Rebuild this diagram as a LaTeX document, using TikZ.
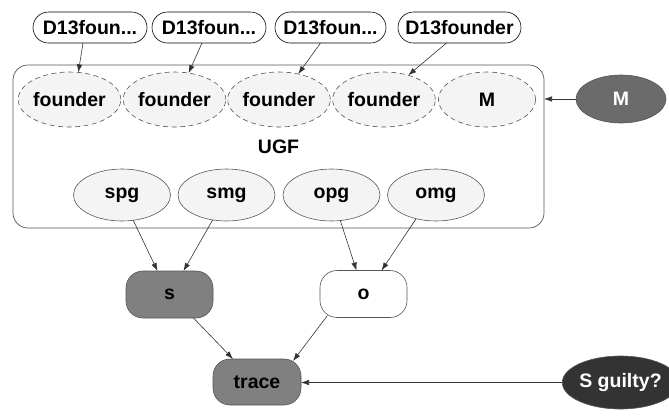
\documentclass[tikz,border=0pt]{standalone}
\usepackage{fontspec}
\setmainfont{Liberation Sans}
\usetikzlibrary{arrows.meta,shapes.geometric,calc}
\definecolor{edgegray}{HTML}{333333}
\definecolor{linegray}{HTML}{555555}
\definecolor{midgray}{HTML}{808080}
\definecolor{darkfill}{HTML}{6B6B6B}
\definecolor{darkerfill}{HTML}{333333}
\definecolor{paleFill}{HTML}{F4F4F4}
\begin{document}
\begin{tikzpicture}[x=1pt,y=-1pt,
  font=\fontsize{19.5}{22}\selectfont\bfseries,
  every node/.style={inner sep=0pt, outer sep=0pt},
  pill/.style={draw=black, line width=0.6pt, rounded corners=15.5pt,
    minimum width=#1, minimum height=31pt, fill=white},
  founderell/.style={ellipse, draw=linegray, line width=0.6pt,
    dash pattern=on 5pt off 3.5pt, fill=paleFill,
    minimum width=97pt, minimum height=55pt},
  geneell/.style={ellipse, draw=linegray, line width=0.6pt, fill=paleFill,
    minimum width=97pt, minimum height=52pt},
  varbox/.style={draw=linegray, line width=0.6pt, rounded corners=17pt,
    minimum height=47pt, minimum width=87pt, fill=#1},
  plate/.style={draw=linegray, line width=0.7pt, rounded corners=15pt,
    minimum width=531pt, minimum height=163pt},
  conn/.style={draw=edgegray, line width=0.6pt,
    -{Latex[length=8pt,width=5.5pt]}}
]
\useasboundingbox (0,0) rectangle (669,416);

% plate holding the founder and gene variables
\node[plate] (ugf) at (278.5,146.5) {UGF};

% per-founder database nodes
\node[pill=114pt] (d1) at (90,27.5) {D13foun...};
\node[pill=114pt] (d2) at (209,27.5) {D13foun...};
\node[pill=111pt] (d3) at (330.5,27.5) {D13foun...};
\node[pill=123pt] (d4) at (459.5,27.5) {D13founder};

% founder row inside the plate
\node[founderell] (f1) at (69.5,99.5) {founder};
\node[founderell] (f2) at (174.5,99.5) {founder};
\node[founderell] (f3) at (279,99.5) {founder};
\node[founderell] (f4) at (384,99.5) {founder};
\node[founderell] (fm) at (487,99.5) {M};

\node[ellipse, draw=linegray, line width=0.6pt, fill=darkfill, text=white,
  minimum width=90pt, minimum height=48pt] (mout) at (621,99) {M};

% gene nodes
\node[geneell] (spg) at (122,195) {spg};
\node[geneell] (smg) at (226.5,195) {smg};
\node[geneell] (opg) at (331.5,195) {opg};
\node[geneell] (omg) at (436,195) {omg};

% genotypes and trace
\node[varbox=midgray] (s) at (169.5,294.5) {s};
\node[varbox=white] (o) at (363.5,294) {o};
\node[varbox=midgray, minimum width=88pt, minimum height=46pt] (trace) at (257,382) {trace};

\node[ellipse, draw=linegray, line width=0.6pt, fill=darkerfill, text=white,
  minimum width=95pt, minimum height=53pt] (sg) at (620.5,382.5) {S guilty?};

% connectors
\draw[conn] ($(d1.south)+(-7,0)$) -- (f1.72);
\draw[conn] ($(d2.south)+(-7,0)$) -- (f2.62);
\draw[conn] ($(d3.south)+(-10,0)$) -- (f3.53);
\draw[conn] ($(d4.south)+(-13,0)$) -- (f4.45);
\draw[conn] (mout.west) -- (mout.west -| ugf.east);

\draw[conn] (spg.-66) -- ($(s.north)+(-12,0)$);
\draw[conn] (smg.-119) -- ($(s.north)+(14,0)$);
\draw[conn] (opg.-71) -- ($(o.north)+(-7,0)$);
\draw[conn] (omg.-130) -- ($(o.north)+(18,0)$);

\draw[conn] ($(s.south)+(24,0)$) -- ($(trace.north)+(-24,0)$);
\draw[conn] ($(o.south)+(-36,-2)$) -- ($(trace.north)+(36,2)$);
\draw[conn] (sg.west) -- (sg.west -| trace.east);
\end{tikzpicture}
\end{document}
